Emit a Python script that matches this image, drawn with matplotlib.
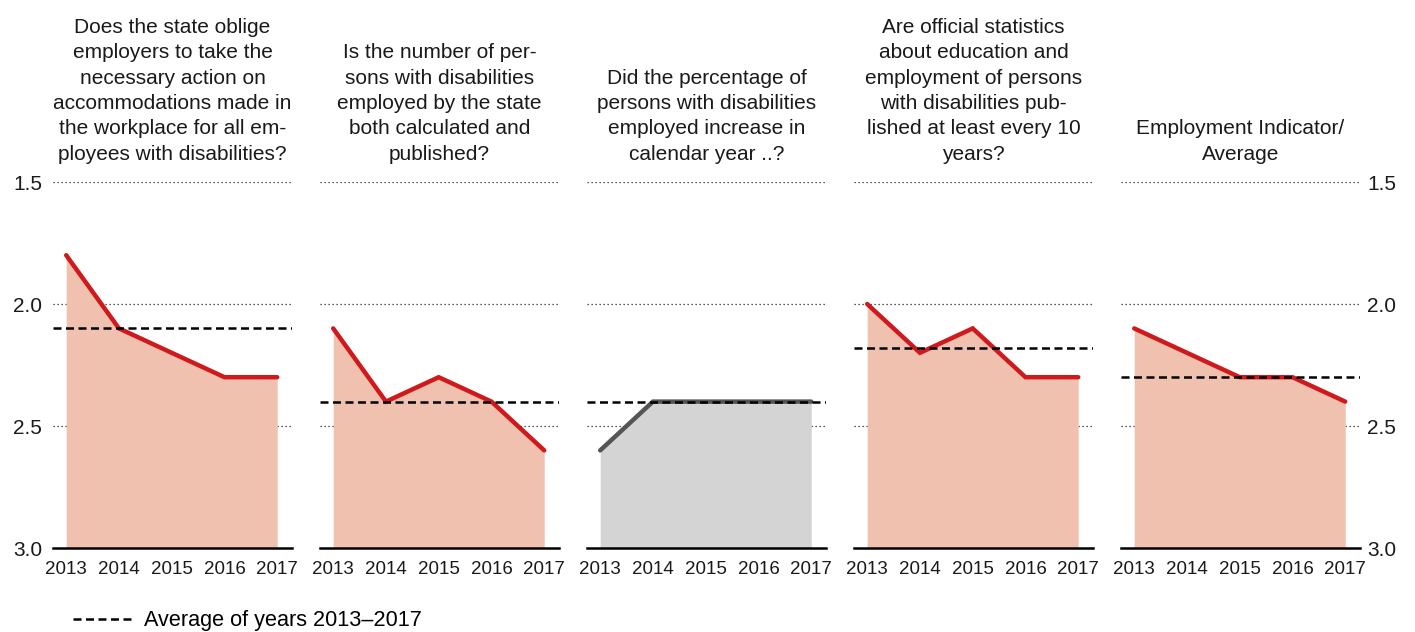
import numpy as np
import matplotlib
matplotlib.use("Agg")
import matplotlib.pyplot as plt
from matplotlib.lines import Line2D

plt.rcParams["font.family"] = ["Liberation Sans", "DejaVu Sans"]
plt.rcParams["font.size"] = 13

years = [2013, 2014, 2015, 2016, 2017]

titles = [
    "Does the state oblige\nemployers to take the\nnecessary action on\naccommodations made in\nthe workplace for all em-\nployees with disabilities?",
    "Is the number of per-\nsons with disabilities\nemployed by the state\nboth calculated and\npublished?",
    "Did the percentage of\npersons with disabilities\nemployed increase in\ncalendar year ..?",
    "Are official statistics\nabout education and\nemployment of persons\nwith disabilities pub-\nlished at least every 10\nyears?",
    "Employment Indicator/\nAverage",
]

accommodations = [1.8, 2.1, 2.2, 2.3, 2.3]
employed_count = [2.1, 2.4, 2.3, 2.4, 2.6]
employed_increase = [2.6, 2.4, 2.4, 2.4, 2.4]
statistics = [2.0, 2.2, 2.1, 2.3, 2.3]
indicator = [2.1, 2.2, 2.3, 2.3, 2.4]

averages = [2.1, 2.4, 2.4, 2.18, 2.3]
highlight = [True, True, False, True, True]

yticks = [1.5, 2.0, 2.5, 3.0]
ytick_labels = ["1.5", "2.0", "2.5", "3.0"]

series = [accommodations, employed_count, employed_increase, statistics, indicator]

RED = "#d0191c"
RED_FILL = "#f0c1ae"
GRAY = "#555555"
GRAY_FILL = "#d4d4d4"
TXT = "#1a1a1a"
DASH = (0, (3.2, 1.8))

fig = plt.figure(figsize=(14.15, 6.32), dpi=100)

W, H = 1415, 632
ax_w = 239 / W
ax_h = 366 / H
bottom = (H - 548) / H

for i, (vals, title) in enumerate(zip(series, titles)):
    left = (53 + i * 267) / W
    ax = fig.add_axes([left, bottom, ax_w, ax_h])
    line_c, fill_c = (RED, RED_FILL) if highlight[i] else (GRAY, GRAY_FILL)

    ax.fill_between(years, vals, 3.0, color=fill_c, lw=0, zorder=1)
    for y in yticks[:-1]:
        ax.axhline(y, color="#222222", lw=0.9, ls=(0, (1, 2.2)), zorder=0)
    ax.axhline(averages[i], color="black", lw=1.8, ls=DASH, zorder=4)
    ax.plot(years, vals, color=line_c, lw=3.2, solid_capstyle="round",
            solid_joinstyle="miter", zorder=3)
    ax.axhline(3.0, color="black", lw=1.8, zorder=5, clip_on=False)

    ax.set_xlim(2012.75, 2017.28)
    ax.set_ylim(3.0, 1.5)
    ax.set_xticks(years)
    ax.set_xticklabels([str(y) for y in years], color=TXT)
    ax.tick_params(axis="x", length=0, pad=9, labelsize=13.5)
    ax.set_yticks(yticks)
    if i == 0:
        ax.set_yticklabels(ytick_labels, color=TXT)
        ax.tick_params(axis="y", length=0, pad=8, labelsize=15)
    elif i == len(series) - 1:
        ax.yaxis.tick_right()
        ax.set_yticklabels(ytick_labels, color=TXT)
        ax.tick_params(axis="y", length=0, pad=5, labelsize=15)
    else:
        ax.set_yticklabels([])
        ax.tick_params(axis="y", length=0)
    for s in ax.spines.values():
        s.set_visible(False)

    ax.text(0.5, 1.05, title, transform=ax.transAxes, ha="center", va="bottom",
            fontsize=15, color=TXT, linespacing=1.42)

handle = Line2D([], [], color="black", lw=1.8, ls=DASH)
fig.legend(handles=[handle], labels=["Average of years 2013\u20132017"],
           loc="center left", bbox_to_anchor=(0.038, 0.018), frameon=False,
           handlelength=2.7, handletextpad=0.55, fontsize=15.6)

fig.savefig("out.png", dpi=100)
